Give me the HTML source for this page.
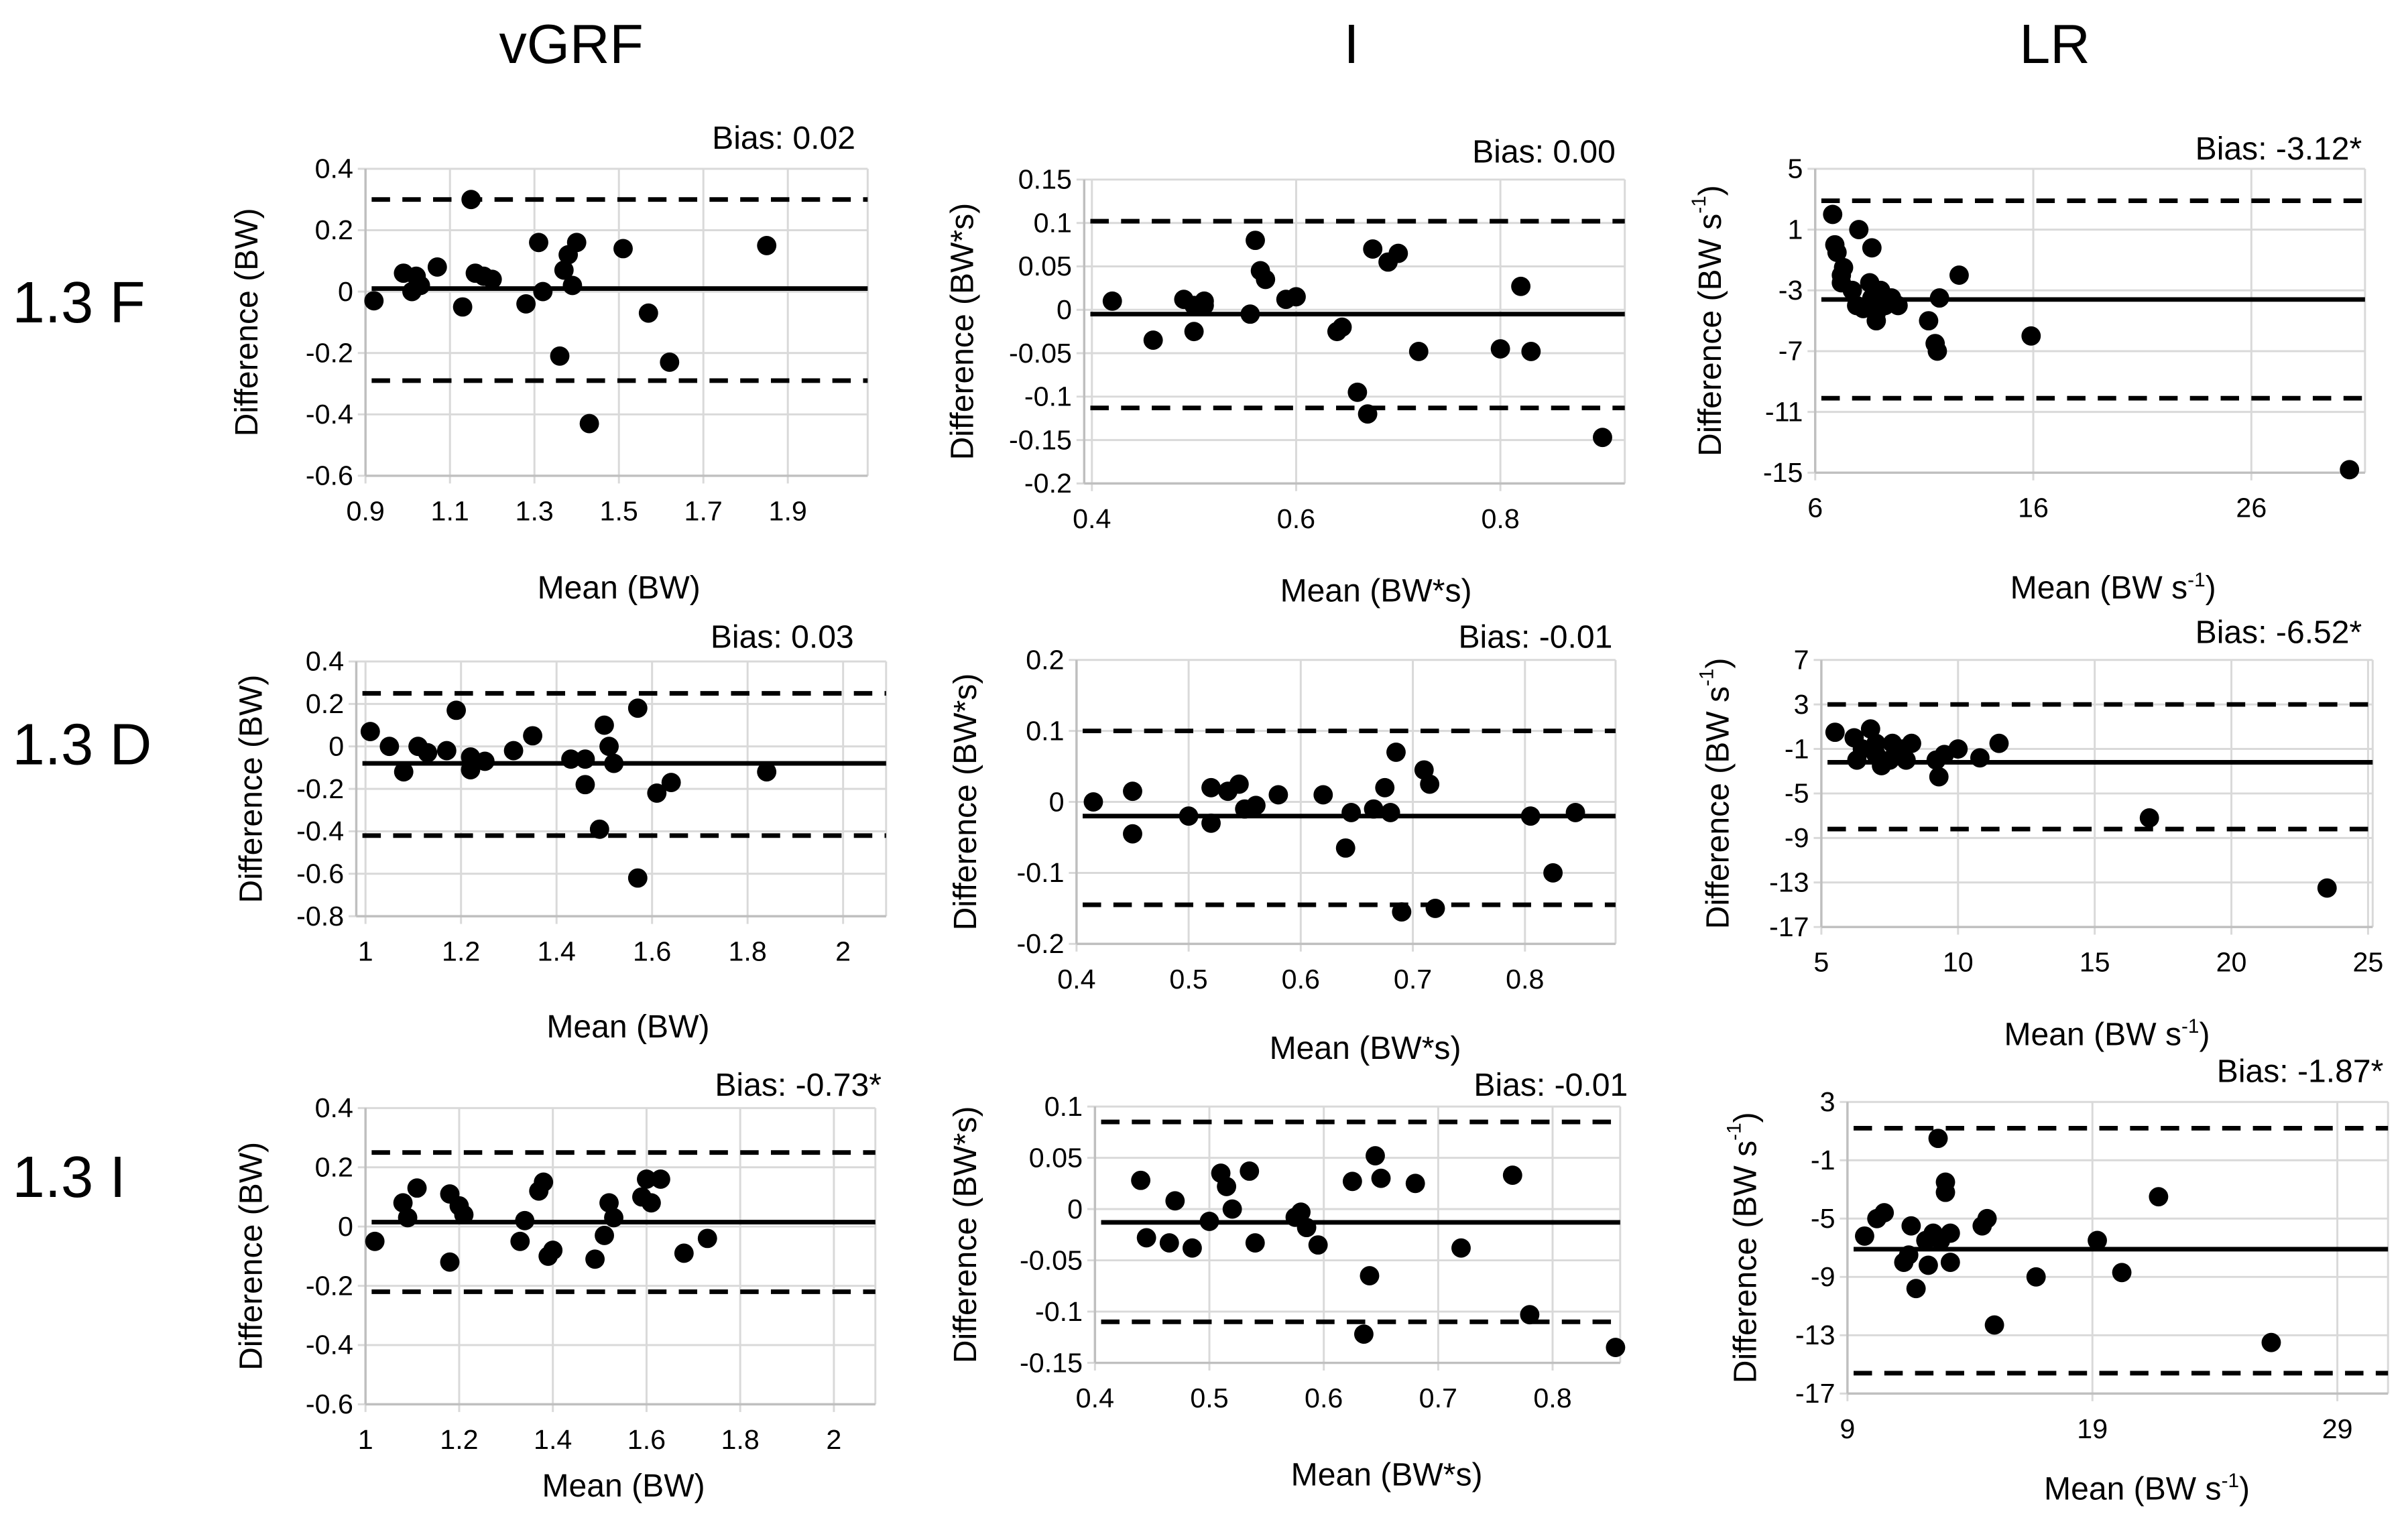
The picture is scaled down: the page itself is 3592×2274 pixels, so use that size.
<!DOCTYPE html>
<html><head><meta charset="utf-8"><style>
html,body{margin:0;padding:0;background:#fff;}
svg{display:block;font-family:"Liberation Sans Narrow","Liberation Sans",sans-serif;}
</style></head><body>
<svg id="fig" width="3592" height="2274" viewBox="0 0 1568 993" preserveAspectRatio="none" xmlns="http://www.w3.org/2000/svg">
<text x="372" y="41" font-size="36" text-anchor="middle">vGRF</text>
<text x="880" y="41" font-size="36" text-anchor="middle">I</text>
<text x="1338" y="41" font-size="36" text-anchor="middle">LR</text>
<text x="8" y="210" font-size="38">1.3 F</text>
<text x="8" y="498" font-size="38">1.3 D</text>
<text x="8" y="780" font-size="38">1.3 I</text>
</svg>
<script>
// Data: means (x) and differences (y) per panel
const p1x=[0.92,0.99,1.02,1.01,1.03,1.07,1.13,1.15,1.16,1.18,1.2,1.28,1.31,1.32,1.36,1.37,1.38,1.39,1.4,1.43,1.51,1.57,1.62,1.85];
const p1y=[-0.03,0.06,0.05,0,0.02,0.08,-0.05,0.3,0.06,0.05,0.04,-0.04,0.16,0,-0.21,0.07,0.12,0.02,0.16,-0.43,0.14,-0.07,-0.23,0.15];
const p1lines=[0.01,0.3,-0.29];
const p2x=[0.42,0.46,0.49,0.5,0.5,0.51,0.51,0.555,0.56,0.565,0.57,0.59,0.6,0.64,0.645,0.66,0.67,0.675,0.69,0.7,0.72,0.8,0.82,0.83,0.9];
const p2y=[0.01,-0.035,0.012,-0.025,0.005,0.01,0.005,-0.005,0.08,0.045,0.035,0.012,0.015,-0.025,-0.02,-0.095,-0.12,0.07,0.055,0.065,-0.048,-0.045,0.027,-0.048,-0.147];
const p2lines=[-0.005,0.102,-0.113];
const p3x=[6.8,6.9,7,7.2,7.3,7.2,7.7,7.9,8.0,8.2,8.5,8.6,8.6,8.8,8.8,9,9.2,9.5,9.8,11.2,11.5,11.6,11.7,12.6,15.9,30.5];
const p3y=[2,0,-0.5,-2,-1.5,-2.5,-3,-4,1,-4.2,-2.5,-0.2,-3.5,-4.5,-5,-3,-4,-3.5,-4,-5,-6.5,-7,-3.5,-2,-6,-14.8];
const p3lines=[-3.6,2.9,-10.1];
const p4x=[1.01,1.05,1.08,1.11,1.13,1.17,1.19,1.22,1.22,1.25,1.31,1.35,1.43,1.46,1.46,1.49,1.5,1.51,1.52,1.57,1.57,1.61,1.64,1.84];
const p4y=[0.07,0,-0.12,0,-0.03,-0.02,0.17,-0.05,-0.11,-0.07,-0.02,0.05,-0.06,-0.06,-0.18,-0.39,0.1,0,-0.08,0.18,-0.62,-0.22,-0.17,-0.12];
const p4lines=[-0.08,0.25,-0.42];
const p5x=[0.415,0.45,0.45,0.5,0.52,0.52,0.535,0.545,0.55,0.56,0.58,0.62,0.64,0.645,0.665,0.675,0.68,0.685,0.69,0.71,0.715,0.72,0.805,0.825,0.845];
const p5y=[0,0.015,-0.045,-0.02,0.02,-0.03,0.015,0.025,-0.01,-0.005,0.01,0.01,-0.065,-0.015,-0.01,0.02,-0.015,0.07,-0.155,0.045,0.025,-0.15,-0.02,-0.1,-0.015];
const p5lines=[-0.02,0.1,-0.145];
const p6x=[5.5,6.2,6.3,6.5,6.8,7,7,7.2,7.5,7.6,7.8,8,8.1,8.3,9.2,9.3,9.5,10,10.8,11.5,17,23.5];
const p6y=[0.5,0,-2,-1,0.8,-1.5,-0.5,-2.5,-2,-0.5,-1.5,-1,-2,-0.5,-2,-3.5,-1.5,-1,-1.8,-0.5,-7.2,-13.5];
const p6lines=[-2.2,3,-8.2];
const p7x=[1.02,1.08,1.09,1.11,1.18,1.18,1.2,1.21,1.33,1.34,1.37,1.38,1.39,1.4,1.49,1.51,1.52,1.53,1.59,1.6,1.61,1.63,1.68,1.73];
const p7y=[-0.05,0.08,0.03,0.13,0.11,-0.12,0.07,0.04,-0.05,0.02,0.12,0.15,-0.1,-0.08,-0.11,-0.03,0.08,0.03,0.1,0.16,0.08,0.16,-0.09,-0.04];
const p7lines=[0.015,0.25,-0.22];
const p8x=[0.44,0.445,0.465,0.47,0.485,0.5,0.51,0.515,0.52,0.535,0.54,0.575,0.58,0.585,0.595,0.625,0.635,0.64,0.645,0.65,0.68,0.72,0.765,0.78,0.855];
const p8y=[0.028,-0.028,-0.033,0.008,-0.038,-0.012,0.035,0.022,0,0.037,-0.033,-0.008,-0.003,-0.018,-0.035,0.027,-0.122,-0.065,0.052,0.03,0.025,-0.038,0.033,-0.103,-0.135];
const p8lines=[-0.013,0.085,-0.11];
const p9x=[9.7,10.2,10.5,11.3,11.5,11.6,11.8,12.2,12.3,12.5,12.7,12.8,13,13,13.2,13.2,14.5,14.7,15,16.7,19.2,20.2,21.7,26.3];
const p9y=[-6.2,-5,-4.6,-8,-7.5,-5.5,-9.8,-6.5,-8.2,-6,0.5,-6.5,-2.5,-3.2,-8,-6,-5.5,-5,-12.3,-9,-6.5,-8.7,-3.5,-13.5];
const p9lines=[-7.1,1.2,-15.6];
const xTicks1=[0.9,1.1,1.3,1.5,1.7,1.9], yTicks1=[0.4,0.2,0,-0.2,-0.4,-0.6];
const xTicks2=[0.4,0.6,0.8], yTicks2=[0.15,0.1,0.05,0,-0.05,-0.1,-0.15,-0.2];
const xTicks3=[6,16,26], yTicks3=[5,1,-3,-7,-11,-15];
const xTicks4=[1,1.2,1.4,1.6,1.8,2], yTicks4=[0.4,0.2,0,-0.2,-0.4,-0.6,-0.8];
const xTicks5=[0.4,0.5,0.6,0.7,0.8], yTicks5=[0.2,0.1,0,-0.1,-0.2];
const xTicks6=[5,10,15,20,25], yTicks6=[7,3,-1,-5,-9,-13,-17];
const xTicks7=[1,1.2,1.4,1.6,1.8,2], yTicks7=[0.4,0.2,0,-0.2,-0.4,-0.6];
const xTicks8=[0.4,0.5,0.6,0.7,0.8], yTicks8=[0.1,0.05,0,-0.05,-0.1,-0.15];
const xTicks9=[9,19,29], yTicks9=[3,-1,-5,-9,-13,-17];
const biasLabels=["Bias: 0.02","Bias: 0.00","Bias: -3.12*","Bias: 0.03","Bias: -0.01","Bias: -6.52*","Bias: -0.73*","Bias: -0.01","Bias: -1.87*"];

const NS="http://www.w3.org/2000/svg";
const svg=document.getElementById('fig');
function mk(tag,attrs,parent){const e=document.createElementNS(NS,tag);for(const k in attrs)e.setAttribute(k,attrs[k]);(parent||svg).appendChild(e);return e;}
const fmt=v=>String(+v.toFixed(3));
const panels=[
 {xs:p1x,ys:p1y,ln:p1lines,xt:xTicks1,yt:yTicks1,xm:[0.9,238,1.9,513],ym:[0.4,110,-0.6,310],box:[238,110,565,310],yt_x:162,xt_c:[403,390],bias:[557,97],unit:"BW",kind:"v"},
 {xs:p2x,ys:p2y,ln:p2lines,xt:xTicks2,yt:yTicks2,xm:[0.4,711,0.8,977],ym:[0.15,117,-0.2,315],box:[706,117,1058,315],yt_x:628,xt_c:[896,392],bias:[1052,106],unit:"BW*s",kind:"i"},
 {xs:p3x,ys:p3y,ln:p3lines,xt:xTicks3,yt:yTicks3,xm:[6,1182,26,1466],ym:[5,110,-15,308],box:[1182,110,1540,308],yt_x:1115,xt_c:[1376,390],bias:[1538,104],kind:"lr"},
 {xs:p4x,ys:p4y,ln:p4lines,xt:xTicks4,yt:yTicks4,xm:[1,238,2,549],ym:[0.4,431,-0.8,597],box:[232,431,577,597],yt_x:165,xt_c:[409,676],bias:[556,422],unit:"BW",kind:"v"},
 {xs:p5x,ys:p5y,ln:p5lines,xt:xTicks5,yt:yTicks5,xm:[0.4,701,0.8,993],ym:[0.2,430,-0.2,615],box:[701,430,1052,615],yt_x:630,xt_c:[889,690],bias:[1050,422],unit:"BW*s",kind:"i"},
 {xs:p6x,ys:p6y,ln:p6lines,xt:xTicks6,yt:yTicks6,xm:[5,1186,25,1542],ym:[7,430,-17,604],box:[1186,430,1545,604],yt_x:1120,xt_c:[1372,681],bias:[1538,419],kind:"lr"},
 {xs:p7x,ys:p7y,ln:p7lines,xt:xTicks7,yt:yTicks7,xm:[1,238,2,543],ym:[0.4,722,-0.6,915],box:[238,722,570,915],yt_x:165,xt_c:[406,975],bias:[574,714],unit:"BW",kind:"v"},
 {xs:p8x,ys:p8y,ln:p8lines,xt:xTicks8,yt:yTicks8,xm:[0.4,713,0.8,1011],ym:[0.1,721,-0.15,888],box:[713,721,1055,888],yt_x:630,xt_c:[903,968],bias:[1060,714],unit:"BW*s",kind:"i"},
 {xs:p9x,ys:p9y,ln:p9lines,xt:xTicks9,yt:yTicks9,xm:[9,1203,29,1522],ym:[3,718,-17,908],box:[1203,718,1555,908],yt_x:1138,xt_c:[1398,977],bias:[1552,705],kind:"lr"}
];
panels.forEach((p,i)=>{
 const g=mk('g',{});
 
 
 const X=v=>p.xm[1]+(v-p.xm[0])*(p.xm[3]-p.xm[1])/(p.xm[2]-p.xm[0]);
 const Y=v=>p.ym[1]+(v-p.ym[0])*(p.ym[3]-p.ym[1])/(p.ym[2]-p.ym[0]);
 const [l,t,r,b]=p.box;
 p.yt.forEach(v=>{
  const y=Y(v);
  const gl=mk('line',{x1:l-5,x2:r,y1:y,y2:y,stroke:'#d9d9d9','stroke-width':1.3},g);
  
  
  const tx=mk('text',{x:l-8,y:y+6,'font-size':18,'text-anchor':'end'},g);
  
  
  tx.textContent=fmt(v);
 });
 p.xt.forEach(v=>{
  const x=X(v);
  const gl=mk('line',{x1:x,x2:x,y1:t,y2:b+5,stroke:'#d9d9d9','stroke-width':1.3},g);
  
  
  const tx=mk('text',{x:x,y:b+29,'font-size':18,'text-anchor':'middle'},g);
  
  
  tx.textContent=fmt(v);
 });
 mk('line',{x1:l,x2:l,y1:t,y2:b,stroke:'#bfbfbf','stroke-width':1.5},g);
 mk('line',{x1:r,x2:r,y1:t,y2:b,stroke:'#d9d9d9','stroke-width':1.3},g);
 mk('line',{x1:l,x2:r,y1:b,y2:b,stroke:'#bfbfbf','stroke-width':1.5},g);
 const bl=mk('line',{x1:l+4,x2:r,y1:Y(p.ln[0]),y2:Y(p.ln[0]),stroke:'#000','stroke-width':3},g);
 
 
 [1,2].forEach(k=>{
  const dl=mk('line',{x1:l+4,x2:r,y1:Y(p.ln[k]),y2:Y(p.ln[k]),stroke:'#000','stroke-width':3,'stroke-dasharray':'12 8'},g);
  
  
 });
 p.xs.forEach((xv,j)=>{
  const c=mk('circle',{cx:X(xv),cy:Y(p.ys[j]),r:6.3,fill:'#000'},g);
  
  
 });
 const bt=mk('text',{x:p.bias[0],y:p.bias[1],'font-size':21,'text-anchor':'end'},g);
 
 
 bt.textContent=biasLabels[i];
 const cy=(t+b)/2;
 const yt=mk('text',{x:p.yt_x,y:cy,'font-size':21,'text-anchor':'middle',transform:`rotate(-90 ${p.yt_x} ${cy})`,'dominant-baseline':'middle'},g);
 
 
 const xt=mk('text',{x:p.xt_c[0],y:p.xt_c[1],'font-size':21,'text-anchor':'middle'},g);
 
 
 if(p.kind==='lr'){
  yt.innerHTML='Difference (BW s<tspan font-size="13" dy="-8">-1</tspan><tspan dy="8">)</tspan>';
  xt.innerHTML='Mean (BW s<tspan font-size="13" dy="-8">-1</tspan><tspan dy="8">)</tspan>';
 } else {
  yt.textContent='Difference ('+p.unit+')';
  xt.textContent='Mean ('+p.unit+')';
 }
});
</script>
</body></html>
